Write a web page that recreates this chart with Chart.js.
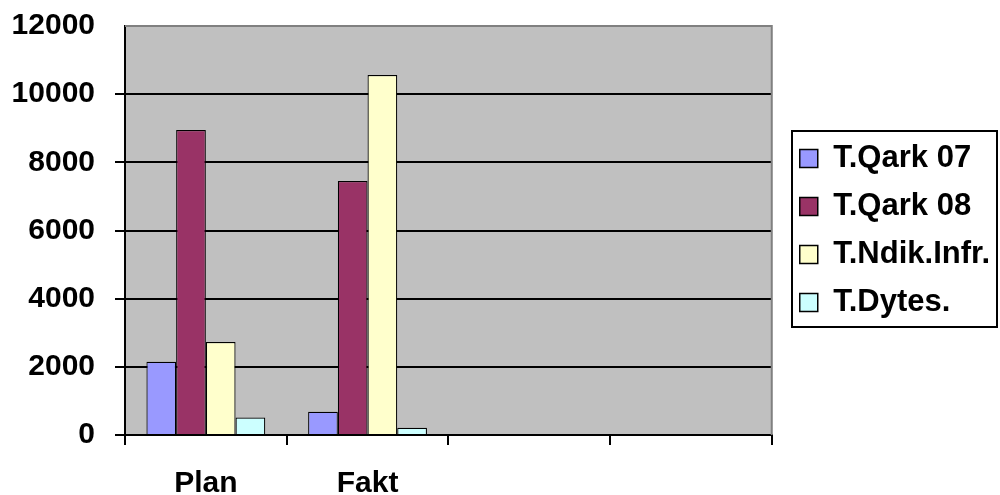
<!DOCTYPE html>
<html>
<head>
<meta charset="utf-8">
<script src="https://cdn.jsdelivr.net/npm/chart.js@4.4.1/dist/chart.umd.min.js"></script>
<style>
html,body{margin:0;padding:0;background:#fff;}
#wrap{width:1000px;height:495px;position:relative;}
</style>
</head>
<body>
<div id="wrap"><canvas id="c" width="1000" height="495"></canvas></div>
<script>
const categories = ["Plan", "Fakt", "", ""];
const seriesNames = ["T.Qark 07", "T.Qark 08", "T.Ndik.Infr.", "T.Dytes."];
const qark07 = [2150, 680, null, null];
const qark08 = [8950, 7450, null, null];
const ndikInfr = [2730, 10560, null, null];
const dytes = [510, 210, null, null];
const yTicks = [0, 2000, 4000, 6000, 8000, 10000, 12000];
const yTickLabels = ["0", "2000", "4000", "6000", "8000", "10000", "12000"];
const colors = ["#9999FF", "#993366", "#FFFFCC", "#CCFFFF"];

const FONT = {family: "'Liberation Sans', Arial, sans-serif", size: 30, weight: "bold"};
const LEGEND_FONT = {family: "'Liberation Sans', Arial, sans-serif", size: 31, weight: "bold"};

const plotBg = {
  id: "plotBg",
  beforeDraw(chart) {
    const {ctx, chartArea: a} = chart;
    ctx.save();
    ctx.fillStyle = "#C0C0C0";
    ctx.fillRect(a.left, a.top, a.right - a.left, a.bottom - a.top);
    ctx.restore();
  },
  afterDatasetsDraw(chart) {
    const {ctx, chartArea: a} = chart;
    ctx.save();
    ctx.strokeStyle = "#808080";
    ctx.lineWidth = 2;
    ctx.beginPath();
    ctx.moveTo(a.left, a.top);
    ctx.lineTo(a.right, a.top);
    ctx.lineTo(a.right, a.bottom);
    ctx.stroke();
    ctx.restore();
  }
};

const legendBorder = {
  id: "legendBorder",
  afterDraw(chart) {
    const lg = chart.legend;
    if (!lg || !lg.legendHitBoxes || !lg.legendHitBoxes.length) return;
    const hb = lg.legendHitBoxes;
    let l = Infinity, t = Infinity, r = -Infinity, b = -Infinity;
    hb.forEach(h => {
      l = Math.min(l, h.left); t = Math.min(t, h.top);
      r = Math.max(r, h.left + h.width); b = Math.max(b, h.top + h.height);
    });
    const ctx = chart.ctx;
    ctx.save();
    ctx.strokeStyle = "#000";
    ctx.lineWidth = 2;
    const x0 = Math.round(l - 8), y0 = Math.round(t - 12);
    const x1 = Math.min(chart.width - 3, Math.round(r + 7)), y1 = Math.round(b + 9);
    ctx.strokeRect(x0, y0, x1 - x0, y1 - y0);
    ctx.restore();
  }
};

const datasets = [qark07, qark08, ndikInfr, dytes].map((d, i) => ({
  label: seriesNames[i],
  data: d,
  backgroundColor: colors[i],
  borderColor: "#000",
  borderWidth: 1.2,
  borderSkipped: "bottom",
  categoryPercentage: 0.735,
  barPercentage: 1.0
}));

new Chart(document.getElementById("c"), {
  type: "bar",
  data: {labels: categories, datasets},
  options: {
    responsive: false,
    animation: false,
    devicePixelRatio: 1,
    layout: {padding: {left: 12, top: 26, right: 0, bottom: 0}},
    plugins: {
      tooltip: {enabled: false},
      legend: {
        position: "right",
        align: "center",
        fullSize: false,
        labels: {
          font: LEGEND_FONT,
          color: "#000",
          boxWidth: 18,
          boxHeight: 18,
          padding: 17,
          generateLabels(chart) {
            return chart.data.datasets.map((ds, i) => ({
              text: ds.label,
              fillStyle: ds.backgroundColor,
              strokeStyle: "#000",
              lineWidth: 1.5,
              fontColor: "#000",
              datasetIndex: i,
              hidden: false
            }));
          }
        }
      }
    },
    scales: {
      x: {
        afterFit(s) { s.height = 60; },
        grid: {display: true, drawOnChartArea: false, offset: true, color: "#000", lineWidth: 2, tickLength: 10},
        border: {display: true, color: "#000", width: 2},
        ticks: {font: FONT, color: "#000", padding: 21, maxRotation: 0, autoSkip: false}
      },
      y: {
        min: 0,
        max: 12000,
        afterBuildTicks(scale) { scale.ticks = yTicks.map(v => ({value: v})); },
        afterFit(s) { s.width = 113; s.paddingTop = 0; s.paddingBottom = 0; },
        grid: {
          color: ctx => (ctx.tick && ctx.tick.value === 12000) ? "rgba(0,0,0,0)" : "#000",
          lineWidth: 2,
          tickLength: 10,
          drawTicks: true
        },
        border: {display: true, color: "#000", width: 2},
        ticks: {font: FONT, color: "#000", padding: 20, callback: (v, i) => yTickLabels[i]}
      },
      gap: {
        type: "linear",
        position: "right",
        display: false,
        afterFit(s) { s.width = 11; }
      }
    }
  },
  plugins: [plotBg, legendBorder]
});
</script>
</body>
</html>
